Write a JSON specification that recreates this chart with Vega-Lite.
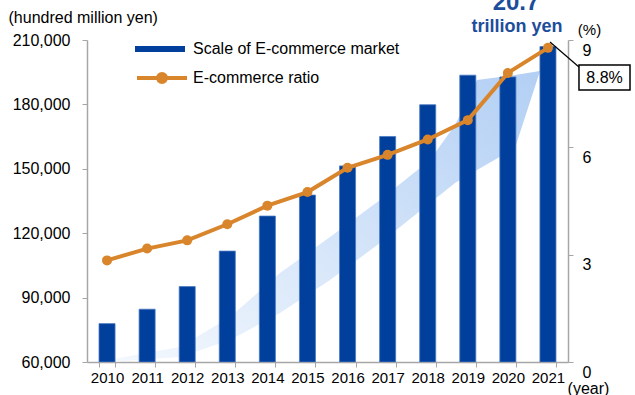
{
  "$schema": "https://vega.github.io/schema/vega-lite/v6.json",
  "width": 481,
  "height": 322,
  "autosize": {"type": "none"},
  "padding": {"left": 87, "top": 40, "right": 67, "bottom": 33},
  "config": {
    "font": "Liberation Sans",
    "view": {"stroke": null},
    "axis": {
      "labelFont": "Liberation Sans",
      "titleFont": "Liberation Sans",
      "labelColor": "#000000",
      "titleColor": "#000000",
      "domainColor": "#a6a6a6",
      "tickColor": "#a6a6a6",
      "domainWidth": 1.5,
      "grid": false,
      "titleFontWeight": "normal"
    },
    "legend": {"labelFont": "Liberation Sans", "labelColor": "#000000", "labelLimit": 0}
  },
  "datasets": {
    "ec": [
      {"year": "2010", "market": 77880, "ratio": 2.84},
      {"year": "2011", "market": 84590, "ratio": 3.17},
      {"year": "2012", "market": 95130, "ratio": 3.40},
      {"year": "2013", "market": 111660, "ratio": 3.85},
      {"year": "2014", "market": 127970, "ratio": 4.37},
      {"year": "2015", "market": 137746, "ratio": 4.75},
      {"year": "2016", "market": 151358, "ratio": 5.43},
      {"year": "2017", "market": 165054, "ratio": 5.79},
      {"year": "2018", "market": 179845, "ratio": 6.22},
      {"year": "2019", "market": 193609, "ratio": 6.76},
      {"year": "2020", "market": 192779, "ratio": 8.08},
      {"year": "2021", "market": 206950, "ratio": 8.78}
    ],
    "arrow": [
      {"x": 2009.824, "upper": 60300, "lower": 59700},
      {"x": 2011.820, "upper": 66988, "lower": 62329},
      {"x": 2013.068, "upper": 80963, "lower": 70248},
      {"x": 2014.315, "upper": 101460, "lower": 82826},
      {"x": 2015.562, "upper": 118230, "lower": 98199},
      {"x": 2016.810, "upper": 135466, "lower": 115435},
      {"x": 2018.057, "upper": 154100, "lower": 134069},
      {"x": 2018.681, "upper": 170404, "lower": 143385},
      {"x": 2019.230, "upper": 191367, "lower": 149441},
      {"x": 2020.178, "upper": 193696, "lower": 159690},
      {"x": 2020.802, "upper": 195559, "lower": 195559}
    ]
  },
  "layer": [
    {
      "data": {"name": "arrow"},
      "mark": {
        "type": "area",
        "clip": true,
        "fill": {
          "gradient": "linear",
          "x1": 0, "y1": 1, "x2": 1, "y2": 0,
          "stops": [
            {"offset": 0, "color": "#f5f9fe"},
            {"offset": 1, "color": "#b2cff4"}
          ]
        }
      },
      "encoding": {
        "x": {"field": "x", "type": "quantitative", "scale": {"domain": [2009.5, 2021.5], "nice": false, "zero": false}, "axis": null},
        "y": {"field": "upper", "type": "quantitative", "scale": {"domain": [60000, 210000], "nice": false, "zero": false}, "axis": null},
        "y2": {"field": "lower"}
      }
    },
    {
      "data": {"name": "ec"},
      "mark": {"type": "bar", "stroke": "#4a78c2", "strokeWidth": 0.8, "clip": true},
      "encoding": {
        "x": {
          "field": "year", "type": "ordinal",
          "scale": {"type": "band", "paddingInner": 0.6, "paddingOuter": 0.3},
          "axis": {
            "title": "(year)",
            "titleAngle": 0,
            "titleFontSize": 16,
            "titleX": 501,
            "titleY": 26,
            "titleAlign": "center",
            "titleBaseline": "middle",
            "labelAngle": 0,
            "labelFontSize": 15,
            "labelPadding": 3,
            "tickSize": 5,
            "tickBand": "extent"
          }
        },
        "y": {
          "field": "market", "type": "quantitative",
          "scale": {"domain": [60000, 210000], "nice": false, "zero": false},
          "axis": {
            "values": [60000, 90000, 120000, 150000, 180000, 210000],
            "format": ",d",
            "labelFontSize": 16,
            "labelPadding": 12,
            "tickSize": 5,
            "title": "(hundred million yen)",
            "titleAngle": 0,
            "titleFontSize": 16,
            "titleAlign": "left",
            "titleBaseline": "middle",
            "titleX": -79,
            "titleY": -23
          }
        },
        "y2": {"datum": 60000},
        "fill": {
          "datum": "Scale of E-commerce market",
          "type": "nominal",
          "scale": {"range": ["#003f9b"]},
          "legend": {
            "title": null,
            "orient": "none",
            "legendX": 48,
            "legendY": -16,
            "symbolType": "M-1,-0.12H1V0.12H-1Z",
            "symbolSize": 2500,
            "symbolStrokeWidth": 0,
            "labelFontSize": 16,
            "labelOffset": 8,
            "labelLimit": 0
          }
        }
      }
    },
    {
      "data": {"name": "ec"},
      "mark": {"type": "line", "strokeWidth": 4},
      "encoding": {
        "x": {"field": "year", "type": "ordinal", "axis": null},
        "y": {
          "field": "ratio", "type": "quantitative",
          "scale": {"domain": [0, 9], "nice": false},
          "axis": {
            "orient": "right",
            "values": [0, 3, 6, 9],
            "labelBaseline": "top",
            "labelOffset": 2,
            "labelFontSize": 16,
            "labelPadding": 9,
            "tickSize": 5,
            "title": "(%)",
            "titleAngle": 0,
            "titleFontSize": 15,
            "titleAlign": "center",
            "titleBaseline": "middle",
            "titleX": 21,
            "titleY": -11
          }
        },
        "stroke": {
          "datum": "E-commerce ratio",
          "type": "nominal",
          "scale": {"range": ["#d9852b"]},
          "legend": {
            "title": null,
            "orient": "none",
            "legendX": 48,
            "legendY": 11,
            "symbolType": "M-1,0H1M-0.16,0A0.16,0.16 0 1,0 0.16,0A0.16,0.16 0 1,0 -0.16,0",
            "symbolSize": 2500,
            "symbolStrokeWidth": 4,
            "symbolFillColor": "#d9852b",
            "labelFontSize": 16,
            "labelOffset": 4,
            "labelLimit": 0
          }
        }
      }
    },
    {
      "data": {"name": "ec"},
      "mark": {"type": "point", "filled": true, "size": 100, "opacity": 1, "color": "#d9852b"},
      "encoding": {
        "x": {"field": "year", "type": "ordinal", "axis": null},
        "y": {"field": "ratio", "type": "quantitative", "scale": {"domain": [0, 9], "nice": false}, "axis": null}
      }
    },
    {
      "data": {"values": [{"x1": 2021.051, "y1": 209069, "x2": 2021.774, "y2": 197424}]},
      "mark": {"type": "rule", "color": "#000000", "strokeWidth": 1.2},
      "encoding": {
        "x": {"field": "x1", "type": "quantitative", "scale": {"domain": [2009.5, 2021.5], "nice": false, "zero": false}, "axis": null},
        "y": {"field": "y1", "type": "quantitative", "scale": {"domain": [60000, 210000], "nice": false, "zero": false}, "axis": null},
        "x2": {"field": "x2"},
        "y2": {"field": "y2"}
      }
    },
    {
      "data": {"values": [{"x1": 2021.774, "x2": 2023.047, "y1": 198355, "y2": 186708}]},
      "mark": {"type": "rect", "fill": "#ffffff", "stroke": "#000000", "strokeWidth": 1.5},
      "encoding": {
        "x": {"field": "x1", "type": "quantitative", "scale": {"domain": [2009.5, 2021.5], "nice": false, "zero": false}, "axis": null},
        "x2": {"field": "x2"},
        "y": {"field": "y1", "type": "quantitative", "scale": {"domain": [60000, 210000], "nice": false, "zero": false}, "axis": null},
        "y2": {"field": "y2"}
      }
    },
    {
      "data": {"values": [{"t": "8.8%", "x": 2022.411, "y": 192299}]},
      "mark": {"type": "text", "fontSize": 16, "color": "#000000", "align": "center", "baseline": "middle"},
      "encoding": {
        "x": {"field": "x", "type": "quantitative", "scale": {"domain": [2009.5, 2021.5], "nice": false, "zero": false}, "axis": null},
        "y": {"field": "y", "type": "quantitative", "scale": {"domain": [60000, 210000], "nice": false, "zero": false}, "axis": null},
        "text": {"field": "t"}
      }
    },
    {
      "data": {"values": [{"t": "20.7", "x": 2020.203, "y": 223976}]},
      "mark": {"type": "text", "fontSize": 24, "fontWeight": "bold", "color": "#1d4d9b", "align": "center", "baseline": "alphabetic"},
      "encoding": {
        "x": {"field": "x", "type": "quantitative", "scale": {"domain": [2009.5, 2021.5], "nice": false, "zero": false}, "axis": null},
        "y": {"field": "y", "type": "quantitative", "scale": {"domain": [60000, 210000], "nice": false, "zero": false}, "axis": null},
        "text": {"field": "t"}
      }
    },
    {
      "data": {"values": [{"t": "trillion yen", "x": 2020.228, "y": 216056}]},
      "mark": {"type": "text", "fontSize": 18, "fontWeight": "bold", "color": "#1d4d9b", "align": "center", "baseline": "middle"},
      "encoding": {
        "x": {"field": "x", "type": "quantitative", "scale": {"domain": [2009.5, 2021.5], "nice": false, "zero": false}, "axis": null},
        "y": {"field": "y", "type": "quantitative", "scale": {"domain": [60000, 210000], "nice": false, "zero": false}, "axis": null},
        "text": {"field": "t"}
      }
    }
  ],
  "resolve": {"scale": {"x": "independent", "y": "independent", "fill": "independent", "stroke": "independent"}}
}
